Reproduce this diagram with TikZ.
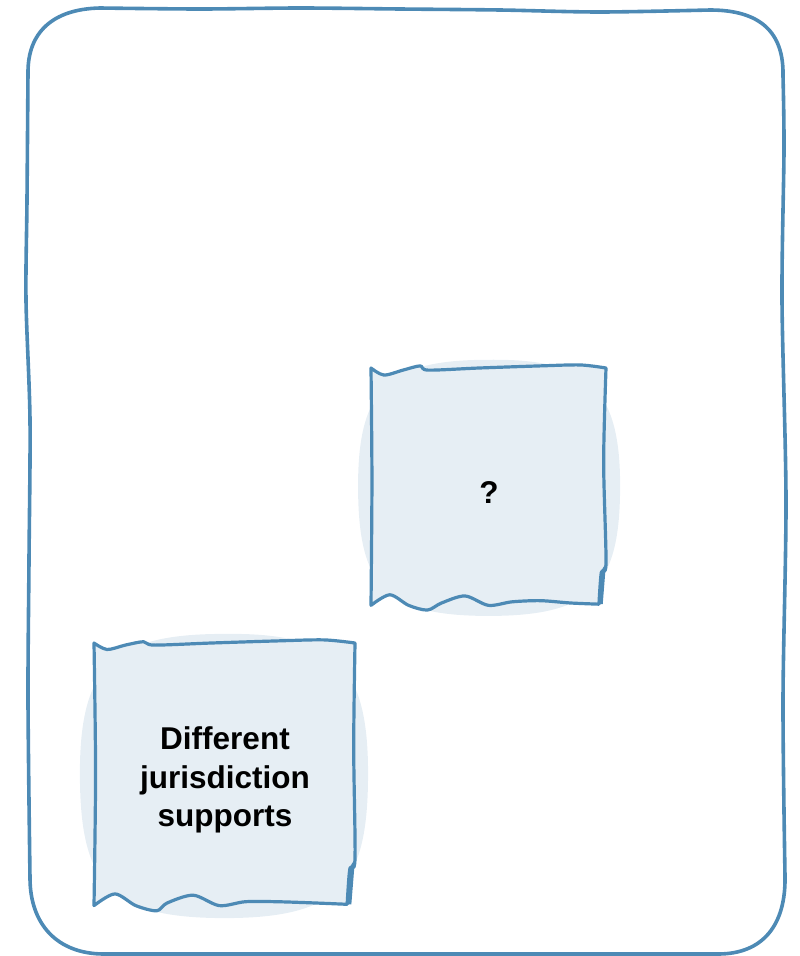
\documentclass[tikz,border=0pt]{standalone}
\usepackage{fontspec}
\setmainfont{Liberation Sans}
\definecolor{sketchblue}{HTML}{4D8AB5}
\definecolor{paleblue}{HTML}{E6EEF4}
\begin{document}
\begin{tikzpicture}[x=1pt, y=-1pt, line join=round, line cap=round,
		font=\bfseries\fontsize{31.5}{38.5}\selectfont,
		rim/.style={draw=sketchblue, line width=3.6pt},
		blob/.style={fill=paleblue},
		sheet/.style={draw=sketchblue, fill=paleblue, line width=3.2pt}]
		\useasboundingbox (0,0) rectangle (800,956);
		% Rahmen
		\draw[rim] (100,8) .. controls (52,9) and (28,33) .. (28,72)
			-- plot[smooth] coordinates {(28,72) (27,200) (26,300) (30,420) (29,560) (28,700) (30,878)}
			.. controls (30,925) and (58,954) .. (104,954)
			-- (718,954) .. controls (763,954) and (786,925) .. (785,876)
			-- plot[smooth] coordinates {(785,876) (783,700) (786,500) (782,300) (784,150) (783,76)}
			.. controls (784,32) and (760,10) .. (710,10)
			-- plot[smooth] coordinates {(710,10) (600,12) (500,10) (400,9) (300,8) (200,9) (100,8)};
		% Blatt 1
		\begin{scope}[shift={(371,368)}, xscale=2.35, yscale=2.35]
			\fill[blob] (50,-3.5) .. controls (92,-4) and (106,8) .. (106,50)
				.. controls (106,92) and (95,105.5) .. (50,105.5)
				.. controls (5,105.5) and (-5.5,92) .. (-5.5,50)
				.. controls (-5.5,8) and (8,-3.5) .. cycle;
			\draw[sheet] plot[smooth] coordinates {(0,0) (5.5,3) (13.6,0.9) (20.9,-0.9) (24.3,0.9) (46,0) (72,-0.9) (89,-1.3) (100,0)}
				-- plot[smooth] coordinates {(100,0) (99,40) (100,83) (98,87) (97,100.5)}
				-- plot[smooth] coordinates {(97,100.5) (85,100) (72,99) (60,99.5) (50,101) (40,97) (30,100) (24,103) (16,101) (8,96.5) (0,101)}
				-- plot[smooth] coordinates {(0,101) (0.4,48) (0,0)} -- cycle;
			\fill[sketchblue] (100,83) -- (97.5,87) -- (97,100.5) -- (98.6,100.5) -- cycle;
		\end{scope}
		% Blatt 2
		\begin{scope}[shift={(94,643)}, xscale=2.61, yscale=2.6]
			\fill[blob] (50,-3.5) .. controls (92,-4) and (105,8) .. (105,50)
				.. controls (105,92) and (95,105.8) .. (50,105.8)
				.. controls (5,105.8) and (-5.4,92) .. (-5.4,50)
				.. controls (-5.4,8) and (8,-3.5) .. cycle;
			\draw[sheet] plot[smooth] coordinates {(0,0) (5,2.5) (12,0.8) (19,-0.5) (23,0.8) (45,0) (70,-0.8) (88,-1.2) (100,0)}
				-- plot[smooth] coordinates {(100,0) (99.5,40) (100,83) (98,87) (97,100.5)}
				-- plot[smooth] coordinates {(97,100.5) (85,100) (70,99.5) (58,99.5) (48,101) (38,97) (28,100) (24,103) (16,101) (8,96.5) (0,101)}
				-- plot[smooth] coordinates {(0,101) (0.6,50) (0,0)} -- cycle;
			\fill[sketchblue] (100,83) -- (97.5,87) -- (97,100.5) -- (98.6,100.5) -- cycle;
		\end{scope}
		% Texte
		\node (q) at (489,492) {?};
		\node[align=center] (jur) at (225,780) {Different\\jurisdiction\\supports};
\end{tikzpicture}
\end{document}
